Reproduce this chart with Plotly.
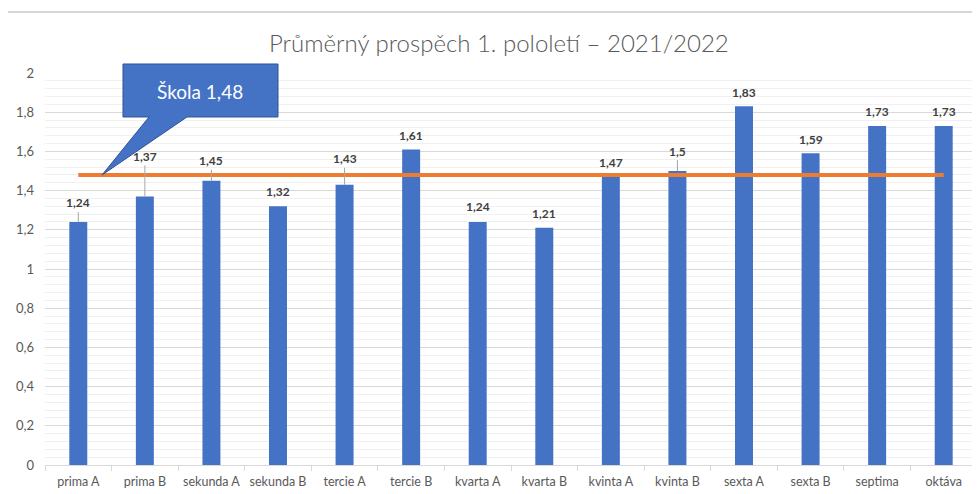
import plotly.graph_objects as go

categories = ["prima A", "prima B", "sekunda A", "sekunda B", "tercie A", "tercie B",
              "kvarta A", "kvarta B", "kvinta A", "kvinta B", "sexta A", "sexta B",
              "septima", "oktáva"]
averages = [1.24, 1.37, 1.45, 1.32, 1.43, 1.61, 1.24, 1.21, 1.47, 1.5, 1.83, 1.59, 1.73, 1.73]
school_average = 1.48
title_text = "Průměrný prospěch 1. pololetí – 2021/2022"
callout_text = "Škola 1,48"

# label lifts in px above bar tops (moved labels get leader lines)
label_lift = [19, 40, 20, 15, 26, 14, 15, 14, 14, 20, 14, 14, 14, 14]
has_leader = [True, True, True, False, True, False, False, False, False, True,
              False, False, False, False]

OFF = 8  # page body margin
W, H = 980 - OFF, 494 - OFF
ML, MR, MT, MB = 45 - OFF, 3, 73 - OFF, 494 - 465
PW, PH = W - ML - MR, H - MT - MB


def px(x):
    return (x - OFF - ML) / PW


def py(y):
    return (H - MB - (y - OFF)) / PH


BAR = "#4472C4"
ORANGE = "#ED7D31"
TXT = "#595959"
FONT = "Lato"

fig = go.Figure()
fig.add_trace(go.Bar(x=categories, y=averages, marker=dict(color=BAR, line=dict(width=0)),
                     showlegend=False, hoverinfo="x+y"))
fig.add_trace(go.Scatter(x=categories, y=[school_average] * len(categories), mode="lines",
                         line=dict(color=ORANGE, width=4), showlegend=False))

annotations = []
for c, v, lift, lead in zip(categories, averages, label_lift, has_leader):
    txt = str(v).replace(".", ",")
    if lead:
        annotations.append(dict(x=c, y=v, xref="x", yref="y", text=txt, showarrow=True,
                                ax=0, ay=-lift, arrowhead=0, arrowwidth=1,
                                arrowcolor="#a6a6a6", standoff=0, startstandoff=0,
                                font=dict(family=FONT, size=12, color="#404040", weight="bold")))
    else:
        annotations.append(dict(x=c, y=v, xref="x", yref="y", text=txt, showarrow=False,
                                yshift=lift, yanchor="middle",
                                font=dict(family=FONT, size=12, color="#404040", weight="bold")))

annotations.append(dict(x=px(499), y=py(42), xref="paper", yref="paper", text=title_text,
                        showarrow=False, xanchor="center", yanchor="middle",
                        font=dict(family=FONT, size=24, color=TXT, weight=300)))
annotations.append(dict(x=px(200), y=py(91), xref="paper", yref="paper", text=callout_text,
                        showarrow=False, xanchor="center", yanchor="middle",
                        font=dict(family=FONT, size=19, color="white")))

# callout bubble
pts = [(123, 64), (278, 64), (278, 117), (187, 117), (102, 175), (149, 117), (123, 117)]
path = "M " + " L ".join(f"{px(a):.5f},{py(b):.5f}" for a, b in pts) + " Z"
shapes = [
    dict(type="path", xref="paper", yref="paper", path=path, fillcolor=BAR,
         line=dict(color="#2F5597", width=1), layer="above"),
    dict(type="line", xref="paper", yref="paper", x0=px(7), x1=px(985), y0=py(12), y1=py(12),
         line=dict(color="#c8c8c8", width=1.5)),
    dict(type="line", xref="paper", yref="paper", x0=px(7), x1=px(7), y0=py(12), y1=py(500),
         line=dict(color="#d8d8d8", width=1)),
]

fig.update_layout(
    width=W, height=H,
    margin=dict(l=ML, r=MR, t=MT, b=MB, autoexpand=False),
    paper_bgcolor="white", plot_bgcolor="white",
    separators=", ",
    bargap=0.73,
    annotations=annotations,
    shapes=shapes,
    font=dict(family=FONT, color=TXT),
    xaxis=dict(showgrid=False, showline=True, linecolor="#d9d9d9", linewidth=1,
               ticks="outside", tickson="boundaries", ticklen=5, tickcolor="#d9d9d9",
               ticklabelstandoff=5, tickangle=0,
               tickfont=dict(family=FONT, size=12.5, color=TXT), fixedrange=True),
    yaxis=dict(range=[0, 2], dtick=0.2, tick0=0, showgrid=True, gridcolor="#d9d9d9",
               gridwidth=1, zeroline=False, showline=False, ticks="",
               tickfont=dict(family=FONT, size=13, color=TXT), ticklabelstandoff=10,
               minor=dict(dtick=0.04, showgrid=True, gridcolor="#f0f0f0", gridwidth=1),
               fixedrange=True),
)

fig.write_html("out.html")
